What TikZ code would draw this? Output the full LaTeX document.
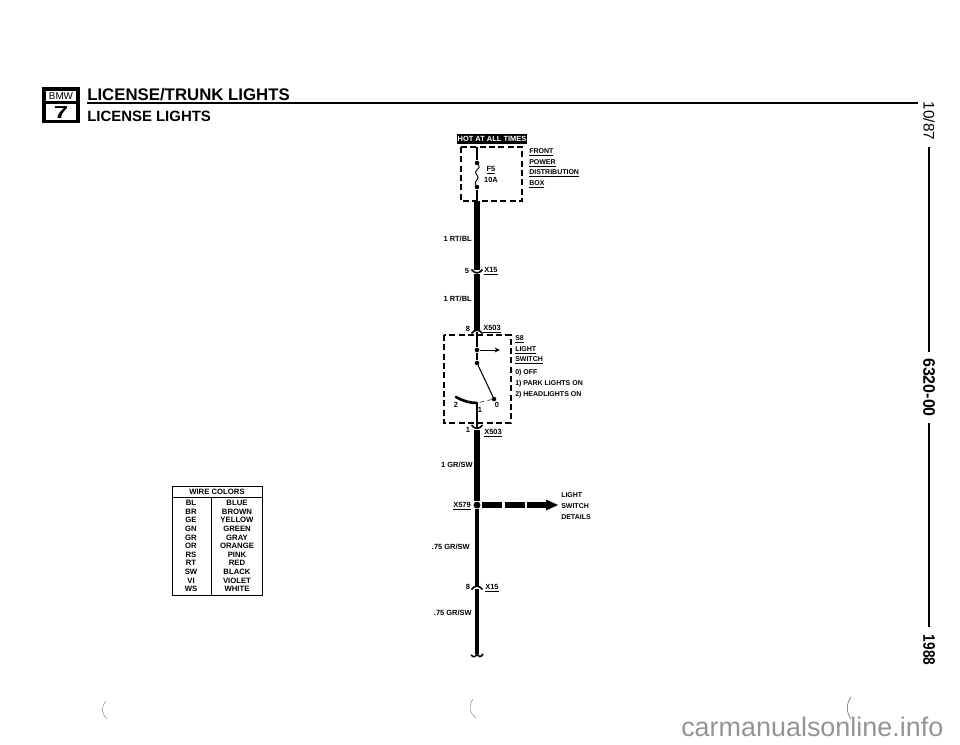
\documentclass[tikz,border=0pt]{standalone}
\usepackage{fontspec}
\setmainfont{Liberation Sans}
\usetikzlibrary{positioning}
\usetikzlibrary{arrows.meta}
\tikzset{
  lbl/.style={font=\fontsize{5.6}{6}\selectfont\bfseries,inner sep=0pt,text height=4pt,text depth=0pt},
  lblw/.style={lbl,anchor=west},
  lble/.style={lbl,anchor=east},
  lbln/.style={lblw,font=\fontsize{5.25}{6}\selectfont\bfseries},
  cell/.style={font=\fontsize{5.8}{6}\selectfont\bfseries,inner sep=0pt,text height=4pt,text depth=0pt},
  wirefat/.style={line width=4.6pt},
  wiremid/.style={line width=3.5pt},
  wirethin/.style={line width=0.8pt},
  dashbox/.style={line width=1.1pt,dash pattern=on 4.6pt off 2.4pt},
  capmark/.style={line width=1.2pt},
  joint/.style={circle,fill=black,inner sep=0pt,minimum size=3.4pt},
  speck/.style={line width=0.3pt,black!55}
}
\begin{document}
\begin{tikzpicture}[x=0.75pt,y=-0.75pt]
\useasboundingbox (0,0) rectangle (960,744);
% header
\draw[line width=2.6pt] (44,89) rectangle (78,121.5);
\draw[line width=1.6pt] (44,102.5) -- (78,102.5);
\node[inner sep=0pt,font=\fontsize{7.4}{8}\selectfont] (bmw) at (61,95.7) {BMW};
\node[inner sep=0pt,xscale=1.5,font=\fontsize{13}{14}\selectfont\bfseries] (seven) at (61,112.5) {7};
\node[anchor=west,inner sep=0pt,font=\fontsize{12.6}{13}\selectfont\bfseries] (title) at (87,94.5) {LICENSE/TRUNK LIGHTS};
\node[anchor=west,inner sep=0pt,font=\fontsize{11.2}{12}\selectfont\bfseries] (subtitle) at (87,116) {LICENSE LIGHTS};
\draw[line width=1.6pt] (87,103) -- (918,103);
% side strip
\node[rotate=-90,inner sep=0pt,font=\fontsize{11.5}{12}\selectfont] (date) at (929,121) {10/87};
\node[rotate=-90,xscale=0.96,inner sep=0pt,font=\fontsize{12.5}{13}\selectfont\bfseries] (group) at (929,387.5) {6320-00};
\node[rotate=-90,xscale=0.82,inner sep=0pt,font=\fontsize{12.5}{13}\selectfont\bfseries] (year) at (929,650) {1988};
\draw[line width=1.2pt] (929,147) -- (929,352);
\draw[line width=1.2pt] (929,423) -- (929,627);
% fuse box
\node[fill=black,text=white,lbl,minimum width=52.5pt,minimum height=8pt] (hot) at (492,139) {HOT AT ALL TIMES};
\draw[dashbox] (461,147) rectangle (522,201);
\coordinate (fusetop) at (477,147);
\node[joint] (fa) at (477,163) {};
\node[joint] (fb) at (477,187) {};
\coordinate (fusebot) at (477,201);
\draw[wirethin] (fusetop) -- (fa);
\draw[line width=0.7pt] (fa) .. controls (482,169) and (472,170) .. (477,175) .. controls (481,179) and (473,181) .. (fb);
\draw[wirethin] (fb) -- (fusebot);
\node[lbl] (f5) at (491,169) {\underline{F5}};
\node[lbl] (fuse10) at (491,180) {10A};
\node[lbln] (front) at (529,151) {\underline{FRONT}};
\node[lbln] (power) at (529,161.5) {\underline{POWER}};
\node[lbln] (distrib) at (529,172) {\underline{DISTRIBUTION}};
\node[lbln] (boxlbl) at (529,183) {\underline{BOX}};
% upper wires
\coordinate (xfifa) at (477,270);
\coordinate (xfifb) at (477,274);
\coordinate (xfoa) at (477,331);
\draw[wirefat] (fusebot) -- (xfifa);
\draw[wirefat] (xfifb) -- (xfoa);
\draw[capmark] (471.5,269.5) .. controls (475,274) and (479,274) .. (482.5,269.5);
\draw[capmark] (471.5,333.5) .. controls (475,329) and (479,329) .. (482.5,333.5);
\node[lble] (rtbla) at (472,239) {1 RT/BL};
\node[lble] (rtblb) at (472,299) {1 RT/BL};
\node[lbl] (pinfive) at (467,271) {5};
\node[lblw] (xfifteena) at (484,270) {\underline{X15}};
\node[lbl] (pineight) at (468,329) {8};
\node[lblw] (xfiveoa) at (483,328) {\underline{X503}};
% light switch
\draw[dashbox] (444,335) rectangle (511,423);
\coordinate (swtop) at (477,332);
\node[joint] (sa) at (477,350) {};
\node[joint] (sb) at (477,363) {};
\node[joint] (sc) at (494,399) {};
\coordinate (sd) at (477,403);
\coordinate (se) at (456,397);
\coordinate (sf) at (477,428);
\coordinate (sarrow) at (500,350);
\draw[wirethin] (swtop) -- (sa);
\draw[wirethin] (sa) -- (sb);
\draw[line width=0.6pt,-{Stealth[length=4pt,width=3.6pt]}] (sa) -- (sarrow);
\draw[wirethin] (sb) -- (sc);
\draw[line width=0.4pt,dashed] (sc) -- (sd);
\draw[line width=2pt,line cap=round] (se) .. controls (463,401) and (470,403) .. (sd);
\draw[wirethin] (sd) -- (sf);
\node[lbl] (swtwo) at (456,405) {2};
\node[lbl] (swone) at (480,410) {1};
\node[lbl] (swzero) at (497,405) {0};
\node[lbln] (seight) at (515,338) {\underline{S8}};
\node[lbln] (lightw) at (515,349) {\underline{LIGHT}};
\node[lbln] (switchw) at (515,359) {\underline{SWITCH}};
\node[lbln] (off) at (515,372) {0) OFF};
\node[lbln] (park) at (515,383) {1) PARK LIGHTS ON};
\node[lbln] (heads) at (515,394) {2) HEADLIGHTS ON};
% lower wires
\node[circle,fill=black,inner sep=0pt,minimum size=5.2pt] (xfive) at (477,505) {};
\coordinate (xfoc) at (477,430);
\coordinate (xfifc) at (477,586);
\coordinate (xfifd) at (477,589);
\coordinate (wireend) at (477,654);
\draw[capmark] (471.5,425) .. controls (475,429.5) and (479,429.5) .. (482.5,425);
\draw[wirefat] (xfoc) -- (xfive);
\draw[wiremid] (xfive) -- (xfifc);
\draw[wiremid] (xfifd) -- (wireend);
\draw[capmark] (471.5,589.5) .. controls (475,585) and (479,585) .. (482.5,589.5);
\draw[capmark] (471,655) .. controls (474,658) and (476,657) .. (477,653) .. controls (478,657) and (481,658) .. (483,654);
\node[lbl] (pinone) at (468,430) {1};
\node[lblw] (xfiveob) at (484,432) {\underline{X503}};
\node[lble] (grswa) at (473,465) {1 GR/SW};
\node[lble] (xfivenine) at (471,505) {\underline{X579}};
\node[lble] (grswb) at (470,547) {.75 GR/SW};
\node[lbl] (pineightb) at (468,587) {8};
\node[lblw] (xfifteenb) at (485,587) {\underline{X15}};
\node[lble] (grswc) at (472,613) {.75 GR/SW};
% branch arrow
\coordinate (brstart) at (482,505);
\coordinate (brmid) at (546,505);
\coordinate (brend) at (558,505);
\draw[line width=4.4pt,dash pattern=on 15pt off 2pt] (brstart) -- (brmid);
\fill (546,499.5) -- (brend) -- (546,510.5) -- cycle;
\node[lbln] (lightb) at (561,495) {LIGHT};
\node[lbln] (switchb) at (561,506) {SWITCH};
\node[lbln] (details) at (561,516.5) {DETAILS};
% wire colors
\draw[line width=0.7pt] (172,486) rectangle (262,595);
\draw[line width=0.7pt] (172,497) -- (262,497);
\draw[line width=0.7pt] (211,497) -- (211,595);
\node[cell] (wc) at (217,491.5) {WIRE COLORS};
\node[cell] (bl) at (191,503) {BL};
\node[cell] (blue) at (237,503) {BLUE};
\node[cell] (br) at (191,511.6) {BR};
\node[cell] (brown) at (237,511.6) {BROWN};
\node[cell] (ge) at (191,520.2) {GE};
\node[cell] (yellow) at (237,520.2) {YELLOW};
\node[cell] (gn) at (191,528.8) {GN};
\node[cell] (green) at (237,528.8) {GREEN};
\node[cell] (gr) at (191,537.4) {GR};
\node[cell] (gray) at (237,537.4) {GRAY};
\node[cell] (or) at (191,546) {OR};
\node[cell] (orange) at (237,546) {ORANGE};
\node[cell] (rs) at (191,554.6) {RS};
\node[cell] (pink) at (237,554.6) {PINK};
\node[cell] (rt) at (191,563.2) {RT};
\node[cell] (red) at (237,563.2) {RED};
\node[cell] (sw) at (191,571.8) {SW};
\node[cell] (black) at (237,571.8) {BLACK};
\node[cell] (vi) at (191,580.4) {VI};
\node[cell] (violet) at (237,580.4) {VIOLET};
\node[cell] (ws) at (191,589) {WS};
\node[cell] (white) at (237,589) {WHITE};
% scan marks
\draw[speck] (106,701) .. controls (101,707) and (101,713) .. (107,719);
\draw[speck] (473,699) .. controls (468,706) and (469,712) .. (476,718);
\draw[speck,line width=0.5pt] (851,697) .. controls (846,704) and (846,712) .. (851,719);
% watermark
\node[anchor=base west,inner sep=0pt,text=black!42,font=\fontsize{20.2}{21}\selectfont] (mark) at (681,736) {carmanualsonline.info};
\end{tikzpicture}
\end{document}
